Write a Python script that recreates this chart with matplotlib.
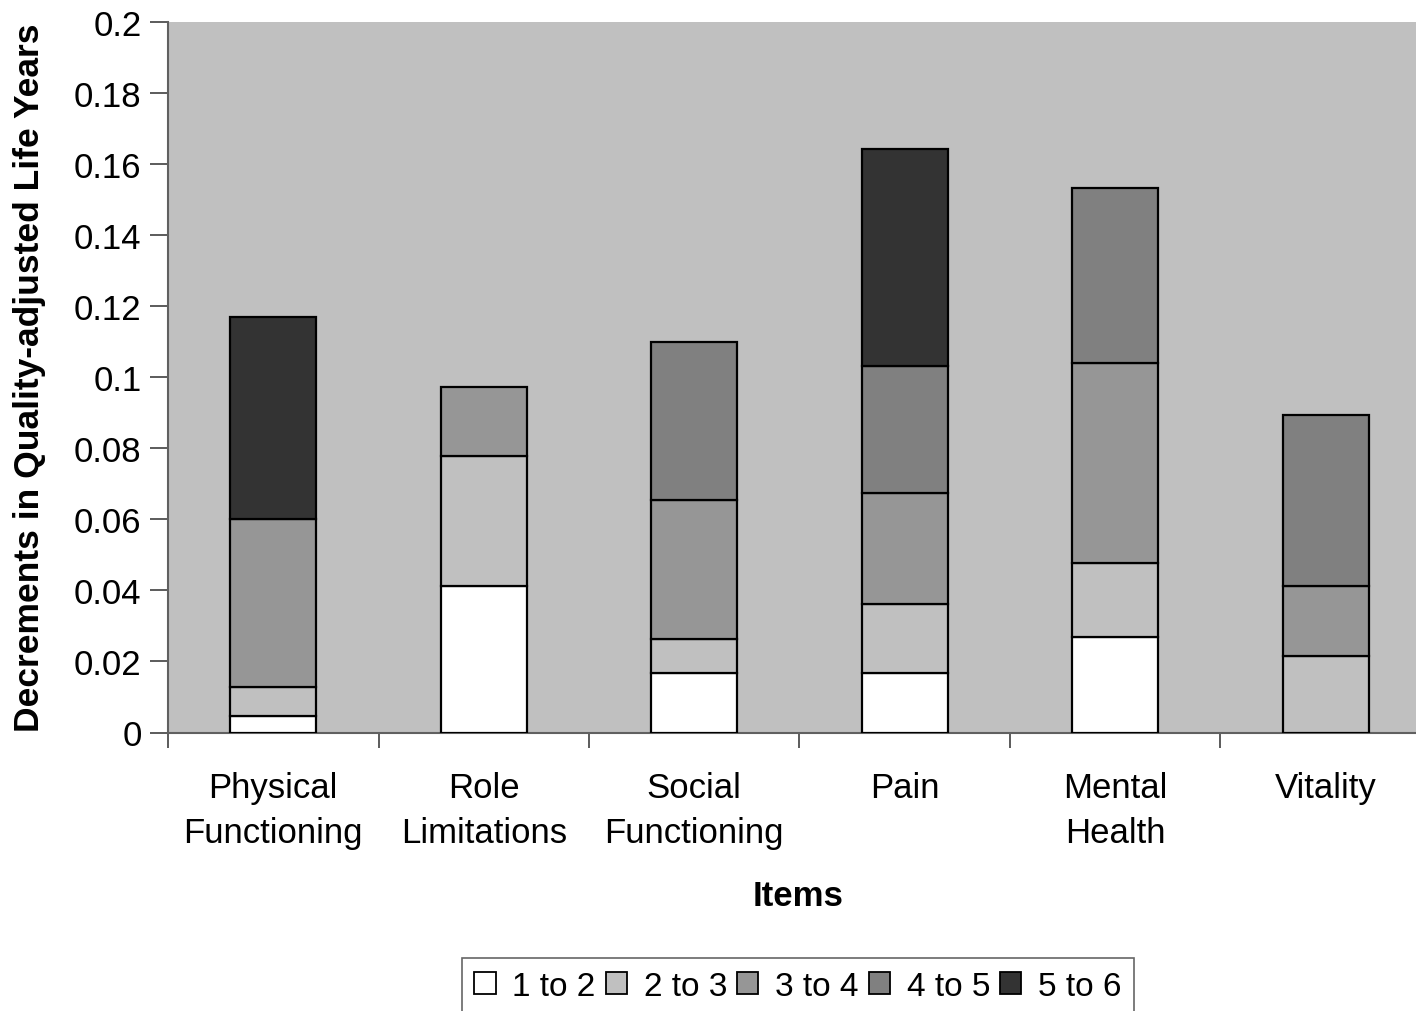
import numpy as np
import matplotlib
matplotlib.use("Agg")
import matplotlib.pyplot as plt
from matplotlib.patches import Patch

plt.rcParams['font.family'] = ['Liberation Sans', 'DejaVu Sans']

categories = ["Physical\nFunctioning", "Role\nLimitations", "Social\nFunctioning",
              "Pain", "Mental\nHealth", "Vitality"]
series_names = ["1 to 2", "2 to 3", "3 to 4", "4 to 5", "5 to 6"]

s_1_to_2 = [0.0047, 0.0412, 0.0168, 0.0168, 0.0268, 0.0]
s_2_to_3 = [0.0080, 0.0365, 0.0094, 0.0194, 0.0210, 0.0215]
s_3_to_4 = [0.0474, 0.0196, 0.0392, 0.0311, 0.0561, 0.0197]
s_4_to_5 = [0.0, 0.0, 0.0446, 0.0360, 0.0494, 0.0482]
s_5_to_6 = [0.0568, 0.0, 0.0, 0.0609, 0.0, 0.0]

series = [s_1_to_2, s_2_to_3, s_3_to_4, s_4_to_5, s_5_to_6]
colors = ["#FFFFFF", "#C0C0C0", "#969696", "#808080", "#333333"]

W, H = 1416, 1012
fig = plt.figure(figsize=(W / 100, H / 100), dpi=100)
fig.patch.set_facecolor("white")
ax = fig.add_axes([168 / W, (H - 733.5) / H, 1263 / W, 710.5 / H])
ax.set_facecolor("#C0C0C0")

x = np.arange(len(categories))
bottom = np.zeros(len(categories))
for vals, col in zip(series, colors):
    vals = np.asarray(vals)
    mask = vals > 0
    ax.bar(x[mask], vals[mask], width=0.41, bottom=bottom[mask], color=col,
           edgecolor="black", linewidth=1.6, zorder=3)
    bottom += vals

ax.set_xlim(-0.5, len(categories) - 0.5)
ax.set_ylim(0, 0.2)
ax.set_yticks(np.arange(0, 0.2001, 0.02))
ax.set_yticklabels(["0", "0.02", "0.04", "0.06", "0.08", "0.1",
                    "0.12", "0.14", "0.16", "0.18", "0.2"], fontsize=25)
ax.tick_params(axis="y", direction="out", length=13, width=1.2, color="#404040", pad=6)

ax.set_xticks(x)
ax.set_xticklabels(categories, fontsize=25, linespacing=1.44)
ax.tick_params(axis="x", which="major", length=0, pad=28)
ax.set_xticks(np.arange(-0.5, len(categories) + 0.5, 1.0), minor=True)
ax.tick_params(axis="x", which="minor", direction="out", length=11, width=1.2, color="#404040")

for side in ("top", "right"):
    ax.spines[side].set_visible(False)
for side in ("left", "bottom"):
    ax.spines[side].set_color("#606060")
    ax.spines[side].set_linewidth(1.5)

ax.set_ylabel("Decrements in Quality-adjusted Life Years", fontsize=25.5,
              fontweight="bold", labelpad=20)
fig.text(798 / W, 1 - 897 / H, "Items", fontsize=25, fontweight="bold",
         ha="center", va="center")

handles = [Patch(facecolor=c, edgecolor="black", linewidth=1.3) for c in colors]
leg = fig.legend(handles, series_names, loc="upper center", ncol=5,
                 bbox_to_anchor=(798 / W, 1 - 959 / H), fontsize=24,
                 frameon=True, fancybox=False, handlelength=0.64, handleheight=0.64,
                 handletextpad=0.5, columnspacing=0.3, borderpad=0.38,
                 borderaxespad=0)
leg.get_frame().set_edgecolor("#404040")
leg.get_frame().set_linewidth(1.2)

fig.savefig("out.png", dpi=100, facecolor="white")
